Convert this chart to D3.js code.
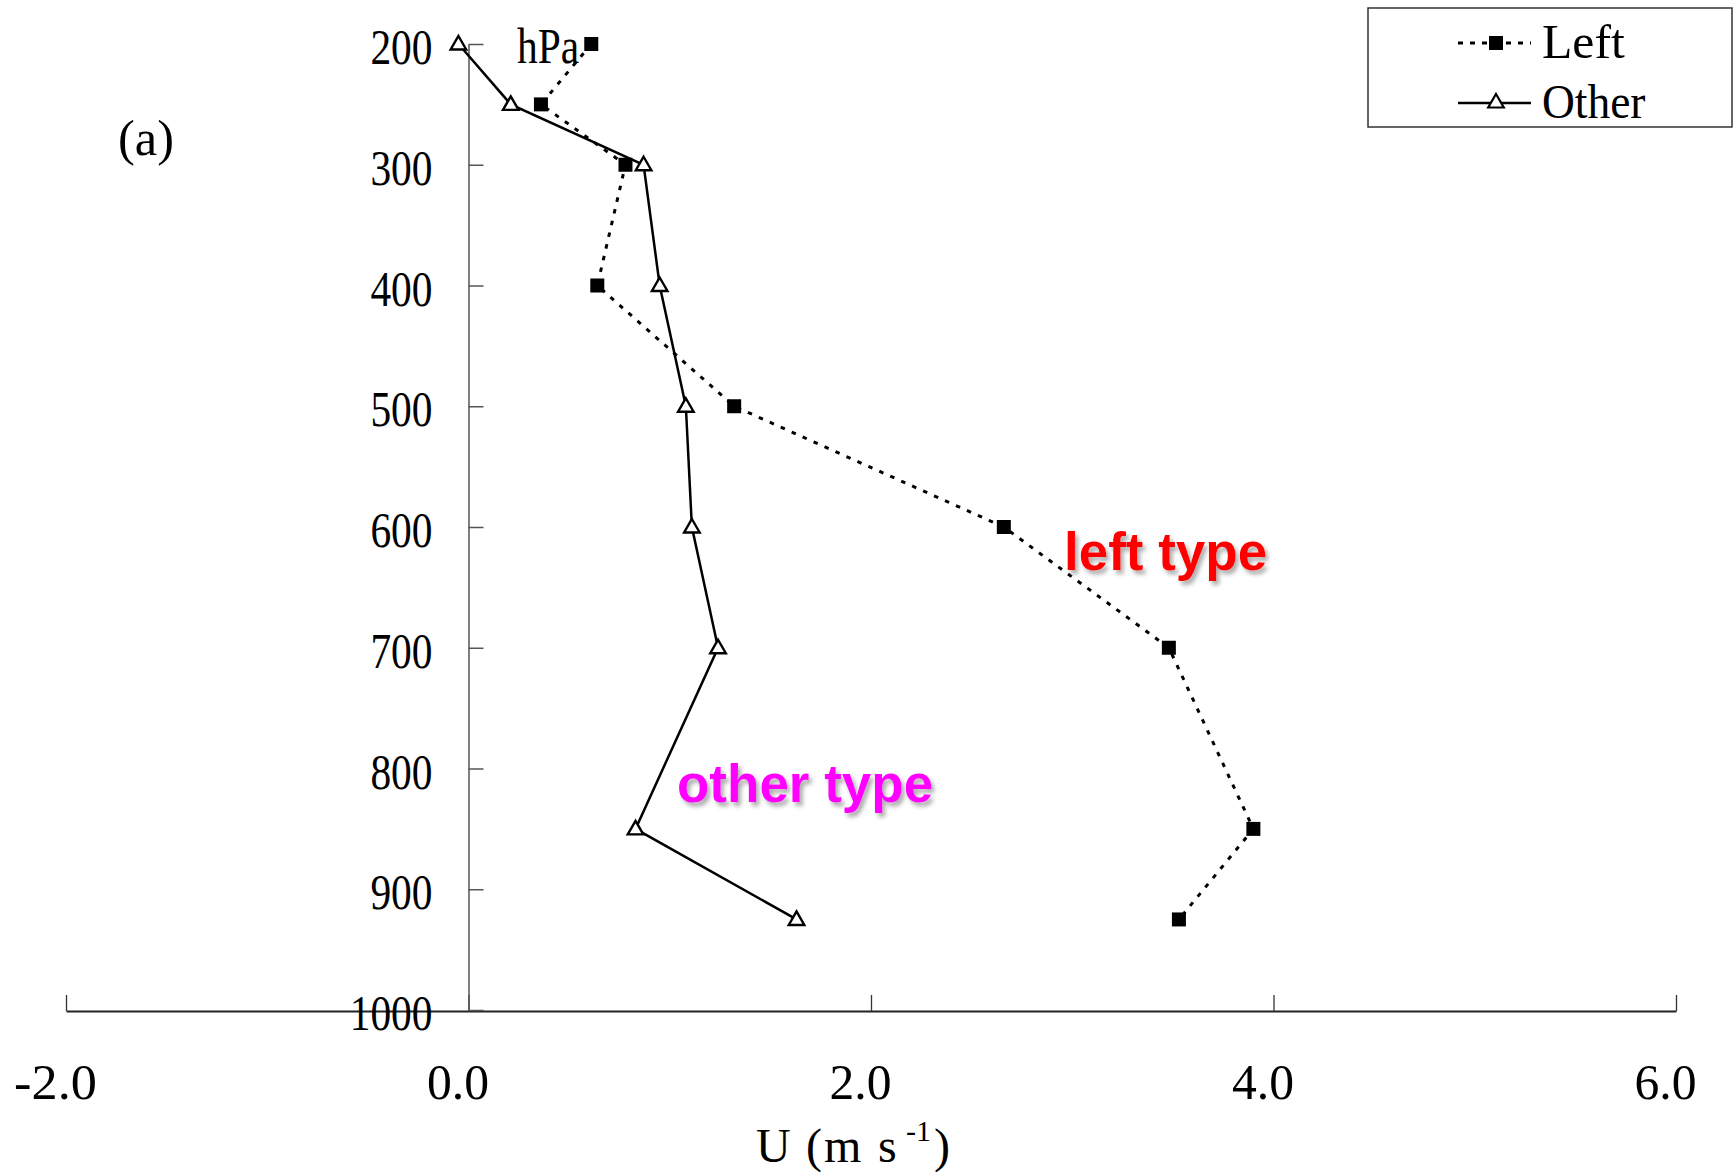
<!DOCTYPE html>
<html>
<head>
<meta charset="utf-8">
<script src="https://cdn.jsdelivr.net/npm/d3@7"></script>
<style>
  html, body { margin: 0; padding: 0; background: #ffffff; }
  svg { display: block; }
</style>
</head>
<body>
<svg id="chart" width="1736" height="1172"></svg>
<script>
// ---- data ----
const pressureLevels = [200, 250, 300, 400, 500, 600, 700, 850, 925];
const leftU  = [0.61, 0.36, 0.78, 0.64, 1.32, 2.66, 3.48, 3.90, 3.53];
const otherU = [-0.05, 0.21, 0.87, 0.95, 1.08, 1.11, 1.24, 0.83, 1.63];
const seriesNames = ["Left", "Other"];
const xTickValues = [-2, 0, 2, 4, 6];
const yTickValues = [200, 300, 400, 500, 600, 700, 800, 900, 1000];
const annotations = ["left type", "other type"];

// ---- setup ----
const svg = d3.select("#chart");
const serif = "'Liberation Serif', 'DejaVu Serif', serif";
const charW = 20.7; // half-width glyph advance of the reference font

const x = d3.scaleLinear().domain([-2, 6]).range([66, 1676]);
const y = d3.scaleLinear().domain([200, 1000]).range([44, 1010]);
const x0 = x(0);

const defs = svg.append("defs");
const f = defs.append("filter").attr("id", "shadow")
  .attr("x", "-10%").attr("y", "-20%").attr("width", "130%").attr("height", "160%");
f.append("feDropShadow").attr("dx", 3).attr("dy", 4).attr("stdDeviation", 2)
  .attr("flood-color", "#777").attr("flood-opacity", 0.6);

function squeeze(sel) {
  sel.each(function() {
    const t = d3.select(this);
    const n = t.text().length;
    t.attr("textLength", charW * n).attr("lengthAdjust", "spacingAndGlyphs");
  });
}

// ---- x axis ----
const xAxis = d3.axisBottom(x)
  .tickValues(xTickValues)
  .tickFormat(d => d.toFixed(1))
  .tickSizeInner(-16)
  .tickSizeOuter(0)
  .tickPadding(0);
const gx = svg.append("g").attr("transform", `translate(0,${y(1000) + 1})`).call(xAxis);
gx.select(".domain").attr("stroke", "#222").attr("stroke-width", 2);
gx.selectAll(".tick line").attr("stroke", "#333").attr("stroke-width", 1.3);
gx.selectAll(".tick text")
  .attr("y", 88).attr("dy", 0).attr("dx", -11)
  .attr("fill", "#000")
  .style("font-family", serif).style("font-size", "50px")
  .call(squeeze);

// ---- y axis ----
const yAxis = d3.axisLeft(y)
  .tickValues(yTickValues)
  .tickFormat(d3.format("d"))
  .tickSizeInner(-15)
  .tickSizeOuter(0)
  .tickPadding(36);
const gy = svg.append("g").attr("transform", `translate(${x0},0)`).call(yAxis);
gy.select(".domain").attr("stroke", "#555").attr("stroke-width", 1.5);
gy.selectAll(".tick line").attr("stroke", "#555").attr("stroke-width", 1.5);
gy.selectAll(".tick text")
  .attr("dy", 19.5)
  .attr("fill", "#000")
  .style("font-family", serif).style("font-size", "50px")
  .call(squeeze);

// ---- lines ----
const leftData = pressureLevels.map((p, i) => ({ p, u: leftU[i] }));
const otherData = pressureLevels.map((p, i) => ({ p, u: otherU[i] }));
const line = d3.line().x(d => x(d.u)).y(d => y(d.p));

svg.append("path").datum(leftData)
  .attr("d", line).attr("fill", "none")
  .attr("stroke", "#000").attr("stroke-width", 3)
  .attr("stroke-dasharray", "4.5,7.5");

svg.append("path").datum(otherData)
  .attr("d", line).attr("fill", "none")
  .attr("stroke", "#000").attr("stroke-width", 2.5);

// ---- markers ----
const sq = 14;
svg.append("g").selectAll("rect").data(leftData).join("rect")
  .attr("x", d => x(d.u) - sq / 2).attr("y", d => y(d.p) - sq / 2)
  .attr("width", sq).attr("height", sq).attr("fill", "#000");

const tri = d3.symbol().type(d3.symbolTriangle).size(105);
svg.append("g").selectAll("path").data(otherData).join("path")
  .attr("d", tri)
  .attr("transform", d => `translate(${x(d.u)},${y(d.p) + 1})`)
  .attr("fill", "#fff").attr("stroke", "#000").attr("stroke-width", 2.4);

// ---- axis labels ----
svg.append("text").attr("x", 517).attr("y", 63)
  .style("font-family", serif).style("font-size", "50px").text("hPa")
  .call(squeeze);

svg.append("text").attr("x", 118).attr("y", 155)
  .style("font-family", serif).style("font-size", "50px").text("(a)")
  .attr("textLength", 56).attr("lengthAdjust", "spacingAndGlyphs");

const title = svg.append("text").attr("y", 1162)
  .style("font-family", serif).style("font-size", "48px");
title.append("tspan").attr("x", 756).text("U");
title.append("tspan").attr("x", 806).text("(");
title.append("tspan").attr("x", 824).text("m");
title.append("tspan").attr("x", 878).text("s");
title.append("tspan").attr("x", 906).attr("y", 1141).style("font-size", "30px").text("-1");
title.append("tspan").attr("x", 934).attr("y", 1162).text(")");

// ---- annotations ----
svg.append("text").attr("x", 1064).attr("y", 570)
  .attr("fill", "#ff0000").attr("filter", "url(#shadow)")
  .style("font-family", "'Liberation Sans', Arial, sans-serif")
  .style("font-weight", "bold").style("font-size", "53px")
  .text(annotations[0]);

svg.append("text").attr("x", 677).attr("y", 802)
  .attr("fill", "#ff00ff").attr("filter", "url(#shadow)")
  .style("font-family", "'Liberation Sans', Arial, sans-serif")
  .style("font-weight", "bold").style("font-size", "53px")
  .text(annotations[1]);

// ---- legend ----
const lg = svg.append("g");
lg.append("rect").attr("x", 1368).attr("y", 8).attr("width", 364).attr("height", 119)
  .attr("fill", "#fff").attr("stroke", "#333").attr("stroke-width", 1.5);

const rows = [43, 103];
// Left row
lg.append("line").attr("x1", 1458).attr("x2", 1531).attr("y1", rows[0]).attr("y2", rows[0])
  .attr("stroke", "#000").attr("stroke-width", 3).attr("stroke-dasharray", "5,7");
lg.append("rect").attr("x", 1489).attr("y", rows[0] - 7).attr("width", 14).attr("height", 14)
  .attr("fill", "#000");
// Other row
lg.append("line").attr("x1", 1458).attr("x2", 1531).attr("y1", rows[1]).attr("y2", rows[1])
  .attr("stroke", "#000").attr("stroke-width", 2.5);
lg.append("path").attr("d", tri).attr("transform", `translate(1496,${rows[1]})`)
  .attr("fill", "#fff").attr("stroke", "#000").attr("stroke-width", 2.2);

lg.selectAll("text.lg").data(seriesNames).join("text")
  .attr("class", "lg")
  .attr("x", 1542).attr("y", (d, i) => rows[i] + 15)
  .style("font-family", serif).style("font-size", "48px")
  .text(d => d)
  .call(squeeze);
</script>
</body>
</html>
